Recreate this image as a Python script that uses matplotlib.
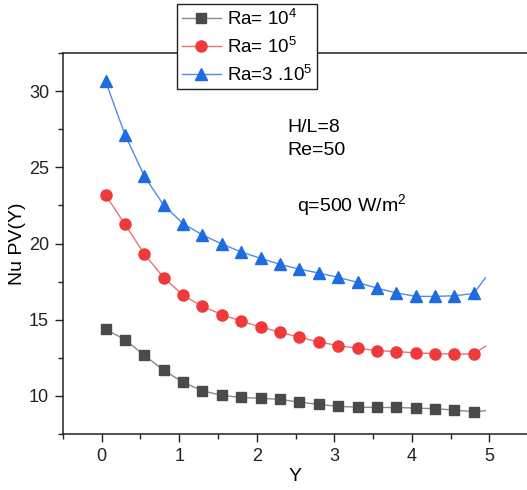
import matplotlib
matplotlib.use("Agg")
import matplotlib.pyplot as plt
import numpy as np

plt.rcParams['font.family'] = ['Liberation Sans', 'DejaVu Sans']
plt.rcParams['mathtext.fontset'] = 'custom'
plt.rcParams['mathtext.rm'] = 'Liberation Sans'
plt.rcParams['mathtext.it'] = 'Liberation Sans:italic'
plt.rcParams['mathtext.bf'] = 'Liberation Sans:bold'

# positions along Y (markers) and the last line point without marker
y_pos = [0.05, 0.30, 0.55, 0.80, 1.05, 1.30, 1.55, 1.80, 2.05, 2.30,
         2.55, 2.80, 3.05, 3.30, 3.55, 3.80, 4.05, 4.30, 4.55, 4.80, 4.95]

nu_ra1e4 = [14.36, 13.70, 12.66, 11.68, 10.89, 10.34, 10.03, 9.90, 9.84, 9.77,
            9.59, 9.44, 9.31, 9.26, 9.24, 9.24, 9.20, 9.16, 9.07, 8.96, 9.03]
nu_ra1e5 = [23.17, 21.26, 19.31, 17.75, 16.61, 15.87, 15.34, 14.90, 14.53, 14.18,
            13.85, 13.54, 13.30, 13.13, 12.97, 12.91, 12.82, 12.78, 12.75, 12.75, 13.26]
nu_ra3e5 = [30.64, 27.14, 24.42, 22.51, 21.30, 20.56, 19.97, 19.44, 19.03, 18.63,
            18.32, 18.06, 17.78, 17.45, 17.07, 16.76, 16.53, 16.53, 16.57, 16.72, 17.75]

labels = [r'Ra= $\mathregular{10^4}$', r'Ra= $\mathregular{10^5}$', r'Ra=3 .$\mathregular{10^5}$']

fig = plt.figure(figsize=(5.27, 4.90), dpi=100)
ax = fig.add_axes([0.1195, 0.1143, 0.8825, 0.7775])

n = len(y_pos) - 1
series = [
    (nu_ra1e4, 's', '#4a4a4a', '#8a8a8a', 7.2),
    (nu_ra1e5, 'o', '#ee3a3a', '#f07070', 8.0),
    (nu_ra3e5, '^', '#1f6be0', '#4f8cea', 8.5),
]
handles = []
for (vals, mk, mc, lc, ms), lab in zip(series, labels):
    ax.plot(y_pos, vals, '-', color=lc, lw=1.0, zorder=2)
    ax.plot(y_pos[:n], vals[:n], ls='none', marker=mk, color=mc, ms=ms, zorder=3)
    h, = ax.plot([], [], '-', color=lc, lw=1.0, marker=mk, mfc=mc, mec=mc, ms=ms, label=lab)
    handles.append(h)

ax.set_xlim(-0.5, 5.5)
ax.set_ylim(7.5, 32.5)
ax.set_xticks([0, 1, 2, 3, 4, 5])
ax.set_xticks(np.arange(-0.5, 5.51, 0.5), minor=True)
ax.set_yticks([10, 15, 20, 25, 30])
ax.set_yticks(np.arange(7.5, 32.6, 2.5), minor=True)
ax.tick_params(which='major', length=6, width=1, labelsize=13, colors='#222222',
               direction='out', pad=4)
ax.tick_params(which='minor', length=3.5, width=1, colors='#222222', direction='out')
for sp in ax.spines.values():
    sp.set_linewidth(1.1)
    sp.set_color('#222222')

ax.set_xlabel('Y', fontsize=14, labelpad=2)
ax.set_ylabel('Nu PV(Y)', fontsize=14, labelpad=2)

ax.text(2.39, 27.6, 'H/L=8', fontsize=14, ha='left', va='center')
ax.text(2.39, 26.1, 'Re=50', fontsize=14, ha='left', va='center')
ax.text(2.52, 22.5, r'q=500 W/$\mathregular{m^2}$', fontsize=14, ha='left', va='center')

leg = fig.legend(handles=handles, loc='upper left', bbox_to_anchor=(177 / 527, 1 - 4 / 490),
                 fontsize=13.5, frameon=True, fancybox=False, framealpha=1,
                 edgecolor='#222222', handlelength=2.1, handletextpad=0.3,
                 labelspacing=0.42, borderpad=0.25, borderaxespad=0)
leg.get_frame().set_linewidth(1.0)

fig.savefig('out.png', dpi=100)
